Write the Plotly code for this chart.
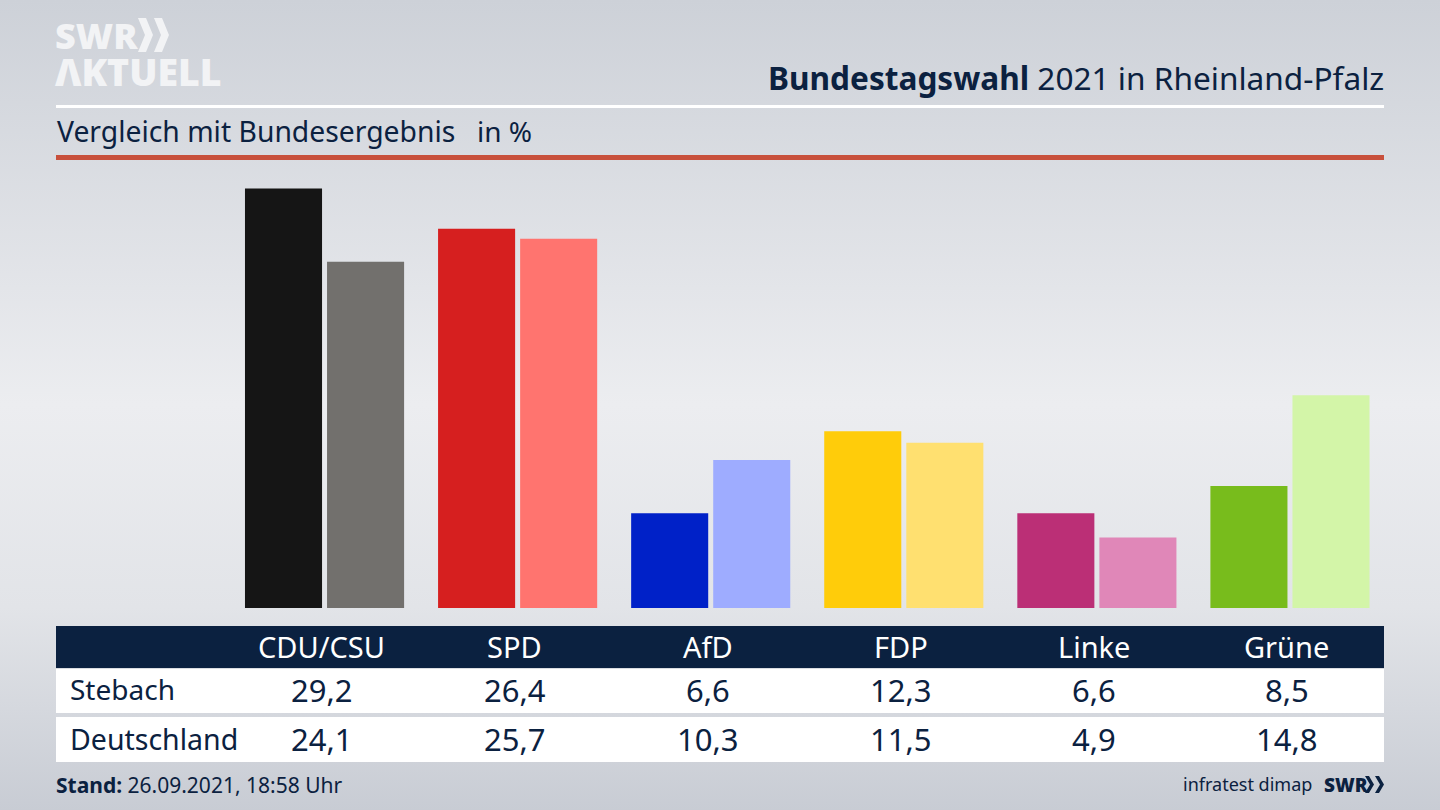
import base64
import plotly.graph_objects as go

parties = ['CDU/CSU', 'SPD', 'AfD', 'FDP', 'Linke', 'Grüne']
stebach = [29.2, 26.4, 6.6, 12.3, 6.6, 8.5]
deutschland = [24.1, 25.7, 10.3, 11.5, 4.9, 14.8]
colors_stebach = ['#151515', '#d61f1f', '#0021c8', '#ffcc0a', '#bb2f76', '#78bc1c']
colors_deutschland = ['#72706d', '#ff746f', '#9eacff', '#ffe070', '#e087b8', '#d3f5a8']

W, H = 1440, 810
NAVY = '#0b2140'
FONT = 'Noto Sans'


def px(x):
    return x / W


def py(y):
    return 1 - y / H


def rect(x0, y0, x1, y1, color):
    return dict(type='rect', xref='paper', yref='paper', x0=px(x0), x1=px(x1), y0=py(y0), y1=py(y1),
                fillcolor=color, line_width=0, layer='below')


def chevron(x, top, bottom, w, t, color):
    mid = (top + bottom) / 2
    pts = [(x, top), (x + t, top), (x + w, mid), (x + t, bottom), (x, bottom), (x + w - t, mid)]
    path = 'M' + ' L'.join(f'{px(a):.5f},{py(b):.5f}' for a, b in pts) + ' Z'
    return dict(type='path', xref='paper', yref='paper', path=path, fillcolor=color, line_width=0)


def label(x, y, text, size, color=NAVY, anchor='left', weight=None):
    return dict(xref='paper', yref='paper', x=px(x), y=py(y), text=text, showarrow=False,
                xanchor=anchor, yanchor='middle', align=anchor,
                font=dict(family=FONT, size=size, color=color, weight=weight), borderpad=0, borderwidth=0)


def cell(party, y, text, size, color=NAVY):
    # table columns sit a little left of the bar groups
    return dict(xref='x', yref='paper', x=party, y=py(y), xshift=-3, text=text, showarrow=False,
                xanchor='center', yanchor='middle', font=dict(family=FONT, size=size, color=color))


svg = f'''<svg xmlns="http://www.w3.org/2000/svg" width="{W}" height="{H}">
<defs><linearGradient id="g" x1="0" y1="0" x2="0" y2="1">
<stop offset="0" stop-color="#cdd1d8"/><stop offset="0.5" stop-color="#ecedf0"/>
<stop offset="0.75" stop-color="#e2e4e8"/><stop offset="1" stop-color="#c8ccd4"/>
</linearGradient></defs><rect width="{W}" height="{H}" fill="url(#g)"/></svg>'''
background = 'data:image/svg+xml;base64,' + base64.b64encode(svg.encode()).decode()

fig = go.Figure()
fig.add_trace(go.Bar(x=parties, y=stebach, name='Stebach', marker=dict(color=colors_stebach, line_width=0)))
fig.add_trace(go.Bar(x=parties, y=deutschland, name='Deutschland', marker=dict(color=colors_deutschland, line_width=0)))

shapes = [
    rect(56, 105, 1384, 108, 'white'),
    rect(56, 155, 1384, 160, '#c8503c'),
    rect(56, 626, 1384, 668, NAVY),
    rect(56, 669, 1384, 713, 'white'),
    rect(56, 717, 1384, 762, 'white'),
    chevron(138, 18, 52, 15, 8, '#f2f3f5'),
    chevron(154, 18, 52, 15, 8, '#f2f3f5'),
    chevron(1365, 776, 793, 9, 4, NAVY),
    chevron(1375, 776, 793, 9, 4, NAVY),
]

annotations = [
    label(55, 36, 'SWR', 36, '#f2f3f5', weight=900),
    label(55, 71, 'ΛKTUELL', 37.4, '#f2f3f5', weight=900),
    label(1384, 77, '<b>Bundestagswahl</b> 2021 in Rheinland-Pfalz', 31.6, anchor='right'),
    label(57, 131, 'Vergleich mit Bundesergebnis', 28.3),
    label(477, 131, 'in %', 28),
    label(70, 689, 'Stebach', 28),
    label(70, 739, 'Deutschland', 28.5),
    label(56, 785, '<b>Stand:</b> 26.09.2021, 18:58 Uhr', 21),
    label(1312, 784, 'infratest dimap', 18, anchor='right'),
    label(1324, 785, 'SWR', 19, weight=900),
]
for party, a, b in zip(parties, stebach, deutschland):
    annotations.append(cell(party, 646, party, 29, 'white'))
    annotations.append(cell(party, 690, f'{a:.1f}'.replace('.', ','), 31))
    annotations.append(cell(party, 739, f'{b:.1f}'.replace('.', ','), 31))

fig.update_layout(
    width=W, height=H, autosize=False,
    margin=dict(l=0, r=0, t=0, b=0),
    paper_bgcolor='rgba(0,0,0,0)', plot_bgcolor='rgba(0,0,0,0)',
    showlegend=False,
    barmode='group', bargap=0.15, bargroupgap=0.061,
    xaxis=dict(domain=[228 / W, 1386.5 / W], range=[-0.5, 5.5], type='category',
               showticklabels=False, showgrid=False, zeroline=False, showline=False, ticks=''),
    yaxis=dict(domain=[1 - 608 / H, 1 - 177 / H], range=[0, 30],
               showticklabels=False, showgrid=False, zeroline=False, showline=False, ticks=''),
    shapes=shapes, annotations=annotations,
    images=[dict(source=background, xref='paper', yref='paper', x=0, y=1, sizex=1, sizey=1,
                 xanchor='left', yanchor='top', sizing='stretch', layer='below')],
)

fig.write_html('out.html', config=dict(displayModeBar=False),
               post_script="document.body.style.margin='0';document.body.style.overflow='hidden';")
